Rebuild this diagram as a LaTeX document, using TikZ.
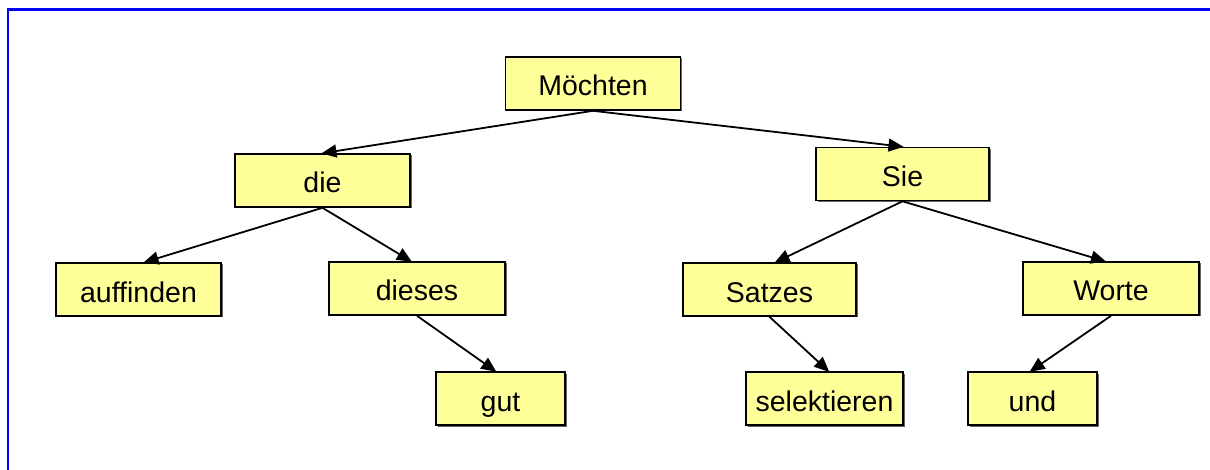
\documentclass[tikz,border=0pt]{standalone}
\usepackage{fontspec}
\setmainfont{Liberation Sans}
\usetikzlibrary{arrows.meta,shadows}
\definecolor{boxfill}{RGB}{255,255,153}
\definecolor{frameblue}{RGB}{0,0,255}
\tikzset{
  wordbox/.style={draw=black, line width=1.6pt, fill=boxfill, minimum height=53pt,
    inner sep=0pt, text height=25pt, text depth=0pt, font=\fontsize{28.5}{30}\selectfont,
    drop shadow={shadow xshift=1.5pt, shadow yshift=-1.5pt, fill=black!60, opacity=1}},
  link/.style={draw=black, line width=1.8pt, -{Triangle[length=15pt,width=13pt]}, shorten >=-1pt}
}
\begin{document}
\begin{tikzpicture}[x=1pt,y=-1pt]
\useasboundingbox (0,0) rectangle (1210,470);
\fill[white] (0,0) rectangle (1210,470);
\draw[frameblue, line width=2.6pt] (8,472) -- (8,9.3) -- (1212,9.3);
\node[wordbox, minimum width=175pt] (m) at (593,83.5) {Möchten};
\node[wordbox, minimum width=175pt] (die) at (322.5,180.5) {die};
\node[wordbox, minimum width=173pt] (sie) at (902.5,174) {Sie};
\node[wordbox, minimum width=165pt] (auf) at (138.5,289.5) {auffinden};
\node[wordbox, minimum width=176pt] (dieses) at (417,288.5) {dieses};
\node[wordbox, minimum width=173pt] (satzes) at (769.5,289.5) {Satzes};
\node[wordbox, minimum width=176pt] (worte) at (1111,288.5) {Worte};
\node[wordbox, minimum width=129pt] (gut) at (500.5,398.5) {gut};
\node[wordbox, minimum width=157pt] (sel) at (824.5,398.5) {selektieren};
\node[wordbox, minimum width=129pt] (und) at (1032.5,398.5) {und};
\draw[link] (m.south) -- (die.north);
\draw[link] (m.south) -- (sie.north);
\draw[link] (die.south) -- ([xshift=6pt]auf.north);
\draw[link] (die.south) -- ([xshift=-6pt]dieses.north);
\draw[link] (sie.south) -- ([xshift=6pt]satzes.north);
\draw[link] (sie.south) -- ([xshift=-6pt]worte.north);
\draw[link] (dieses.south) -- ([xshift=-5pt]gut.north);
\draw[link] (satzes.south) -- ([xshift=4pt]sel.north);
\draw[link] (worte.south) -- ([xshift=-2pt]und.north);
\end{tikzpicture}
\end{document}
